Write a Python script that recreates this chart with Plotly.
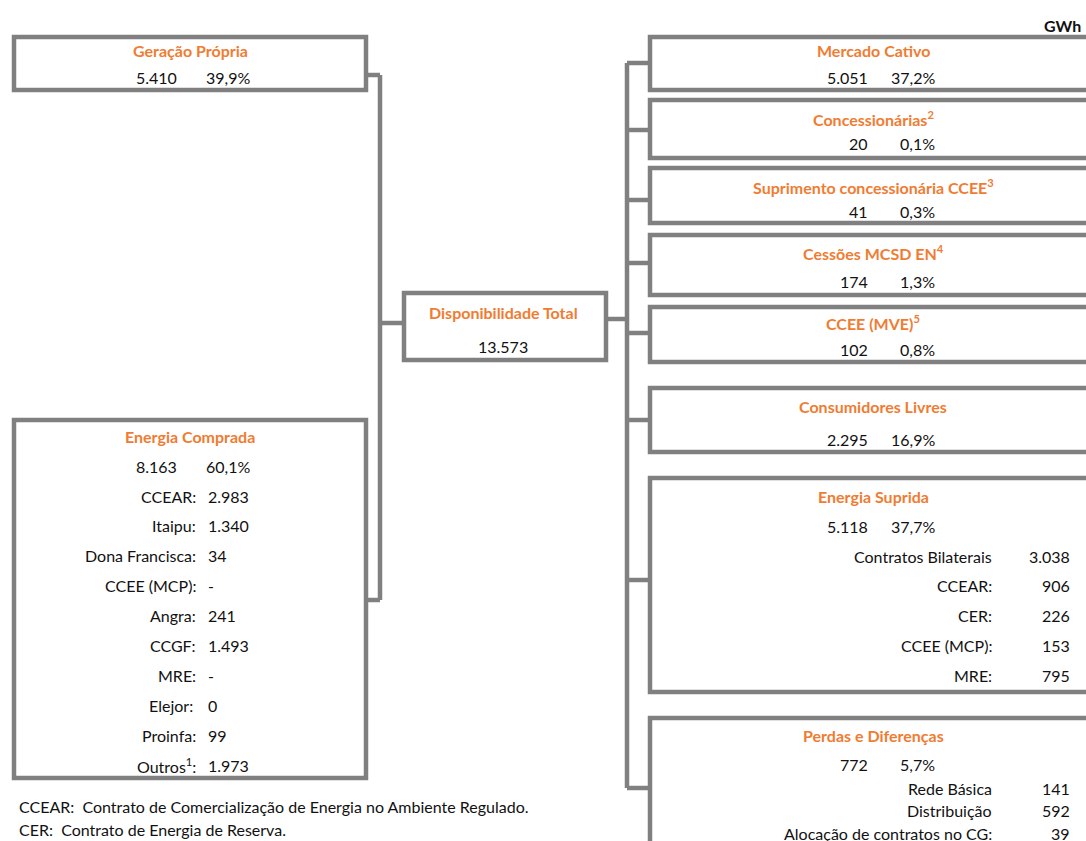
import plotly.graph_objects as go

# ---------------- data ----------------
unidade = "GWh"
geracao_titulo = "Geração Própria"
geracao_valor = "5.410"
geracao_pct = "39,9%"

compra_titulo = "Energia Comprada"
compra_valor = "8.163"
compra_pct = "60,1%"
compra_labels = ["CCEAR:", "Itaipu:", "Dona Francisca:", "CCEE (MCP):", "Angra:",
                 "CCGF:", "MRE:", "Elejor:", "Proinfa:", "Outros<sup>1</sup>:"]
compra_values = ["2.983", "1.340", "34", "-", "241", "1.493", "-", "0", "99", "1.973"]

total_titulo = "Disponibilidade Total"
total_valor = "13.573"

destino_titulos = ["Mercado Cativo", "Concessionárias<sup>2</sup>",
                   "Suprimento concessionária CCEE<sup>3</sup>", "Cessões MCSD EN<sup>4</sup>",
                   "CCEE (MVE)<sup>5</sup>", "Consumidores Livres", "Energia Suprida",
                   "Perdas e Diferenças"]
destino_values = ["5.051", "20", "41", "174", "102", "2.295", "5.118", "772"]
destino_pcts = ["37,2%", "0,1%", "0,3%", "1,3%", "0,8%", "16,9%", "37,7%", "5,7%"]

suprida_labels = ["Contratos Bilaterais", "CCEAR:", "CER:", "CCEE (MCP):", "MRE:"]
suprida_values = ["3.038", "906", "226", "153", "795"]

perdas_labels = ["Rede Básica", "Distribuição", "Alocação de contratos no CG:"]
perdas_values = ["141", "592", "39"]

notas = ["CCEAR:  Contrato de Comercialização de Energia no Ambiente Regulado.",
         "CER:  Contrato de Energia de Reserva."]

# ---------------- layout geometry ----------------
W, H = 1086, 841
GRAY = "#808080"
ORANGE = "#F07C32"
TXT = "#111111"
FONT = "Lato"
FS = 16
LW = 4.5

shapes = []
annotations = []


def box(x0, y0, x1, y1):
    shapes.append(dict(type="rect", xref="x", yref="y", x0=x0, y0=y0, x1=x1, y1=y1,
                       line=dict(color=GRAY, width=LW), fillcolor="white", layer="above"))


def line(x0, y0, x1, y1):
    shapes.append(dict(type="line", xref="x", yref="y", x0=x0, y0=y0, x1=x1, y1=y1,
                       line=dict(color=GRAY, width=LW), layer="below"))


def text(x, y, s, anchor="center", bold=False, color=TXT, size=FS):
    annotations.append(dict(x=x, y=y, xref="x", yref="y", text=s, showarrow=False,
                            xanchor=anchor, yanchor="middle",
                            font=dict(family=FONT, size=size, color=color,
                                      weight="bold" if bold else "normal")))


# connectors (left side)
line(366, 75, 380, 75)
line(380, 75, 380, 600)
line(366, 600, 380, 600)
line(380, 323, 404, 323)
# connectors (right side)
line(606, 319, 627, 319)
right_tops = [37, 100, 168, 235, 307, 388, 478, 718]
right_bots = [90, 158, 223, 295, 362, 452, 692, 900]
right_stubs = [63, 130, 200, 263, 333, 420, 580, 788]
line(627, right_stubs[0], 627, right_stubs[-1])
for ys in right_stubs:
    line(627, ys, 650, ys)

# left boxes
box(14, 37, 366, 90)
text(190, 50, geracao_titulo, bold=True, color=ORANGE)
text(179, 77, geracao_valor, anchor="right")
text(252, 77, geracao_pct, anchor="right")

box(14, 420, 366, 778)
text(190, 436, compra_titulo, bold=True, color=ORANGE)
text(179, 466, compra_valor, anchor="right")
text(252, 466, compra_pct, anchor="right")
for i, (lab, val) in enumerate(zip(compra_labels, compra_values)):
    yy = 496 + i * 29.9
    text(198 if i != 7 else 195, yy, lab, anchor="right")
    text(206, yy, val, anchor="left")

# central box
box(404, 293, 606, 360)
text(503, 312, total_titulo, bold=True, color=ORANGE)
text(503, 346, total_valor)

# right boxes
title_y = [50, 118, 186, 252, 322, 406, 496, 735]
value_y = [77, 143, 211, 281, 349, 439, 526, 764]
for i in range(len(destino_titulos)):
    box(650, right_tops[i], 1100, right_bots[i])
    text(873, title_y[i], destino_titulos[i], bold=True, color=ORANGE)
    text(870, value_y[i], destino_values[i], anchor="right")
    text(937, value_y[i], destino_pcts[i], anchor="right")

for i, (lab, val) in enumerate(zip(suprida_labels, suprida_values)):
    yy = 556 + i * 29.8
    text(994, yy, lab, anchor="right")
    text(1072, yy, val, anchor="right")

for i, (lab, val) in enumerate(zip(perdas_labels, perdas_values)):
    yy = 788 + i * 22.5
    text(994, yy, lab, anchor="right")
    text(1072, yy, val, anchor="right")

# unit and notes
text(1083, 25, unidade, anchor="right", bold=True)
for i, n in enumerate(notas):
    text(17, 806 + i * 23, n, anchor="left")

fig = go.Figure()
fig.update_layout(
    width=W, height=H,
    margin=dict(l=0, r=0, t=0, b=0),
    paper_bgcolor="white", plot_bgcolor="white",
    xaxis=dict(range=[0, W], visible=False, fixedrange=True),
    yaxis=dict(range=[H, 0], visible=False, fixedrange=True),
    shapes=shapes, annotations=annotations, showlegend=False,
)
fig.write_html("out.html", config={"displayModeBar": False},
               post_script="document.body.style.margin='0';document.body.style.overflow='hidden';")
